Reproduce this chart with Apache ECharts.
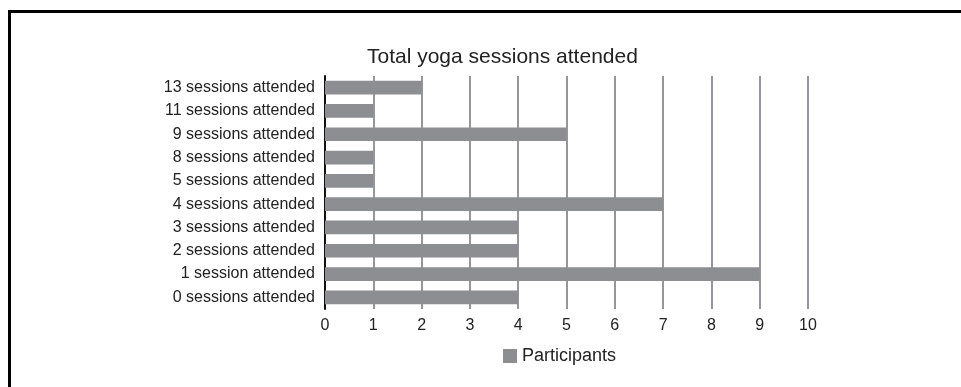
<!DOCTYPE html>
<html>
<head>
<meta charset="utf-8">
<script src="https://cdn.jsdelivr.net/npm/echarts@6/dist/echarts.min.js"></script>
<style>
html,body{margin:0;padding:0;background:#fff;}
#chart{width:961px;height:387px;}
</style>
</head>
<body>
<div id="chart"></div>
<script>
const categories = [
  "0 sessions attended",
  "1 session attended",
  "2 sessions attended",
  "3 sessions attended",
  "4 sessions attended",
  "5 sessions attended",
  "8 sessions attended",
  "9 sessions attended",
  "11 sessions attended",
  "13 sessions attended"
];
const participants = [4, 9, 4, 4, 7, 1, 1, 5, 1, 2];
const seriesName = "Participants";
const chartTitle = "Total yoga sessions attended";

const chart = echarts.init(document.getElementById('chart'), null, {renderer: 'canvas'});
const font = 'Liberation Sans, Arial, Helvetica, sans-serif';
chart.setOption({
  animation: false,
  backgroundColor: '#ffffff',
  textStyle: {fontFamily: font},
  graphic: [{
    type: 'rect',
    shape: {x: 9.5, y: 11.5, width: 1200, height: 1200},
    style: {fill: 'none', stroke: '#000', lineWidth: 3},
    silent: true
  }],
  title: {
    text: chartTitle,
    left: 362,
    top: 42,
    textStyle: {fontFamily: font, fontSize: 21, fontWeight: 'normal', color: '#222'}
  },
  legend: {
    data: [seriesName],
    left: 498,
    top: 342,
    icon: 'rect',
    itemWidth: 14,
    itemHeight: 14,
    itemGap: 10,
    textStyle: {fontFamily: font, fontSize: 18, color: '#222'}
  },
  grid: {left: 325, right: 153, top: 76, bottom: 78, containLabel: false},
  xAxis: {
    type: 'value',
    min: 0,
    max: 10,
    interval: 1,
    axisLine: {show: false},
    axisTick: {show: false},
    axisLabel: {fontFamily: font, fontSize: 16, color: '#222', margin: 9},
    splitLine: {show: true, lineStyle: {color: '#97979b', width: 2}}
  },
  yAxis: {
    type: 'category',
    data: categories,
    axisLine: {show: true, lineStyle: {color: '#111', width: 2}},
    axisTick: {show: false},
    axisLabel: {fontFamily: font, fontSize: 16, color: '#222', margin: 10},
    splitLine: {show: false}
  },
  series: [{
    name: seriesName,
    type: 'bar',
    data: participants,
    barCategoryGap: '41%',
    itemStyle: {color: '#8d8e92'}
  }]
});
</script>
</body>
</html>
